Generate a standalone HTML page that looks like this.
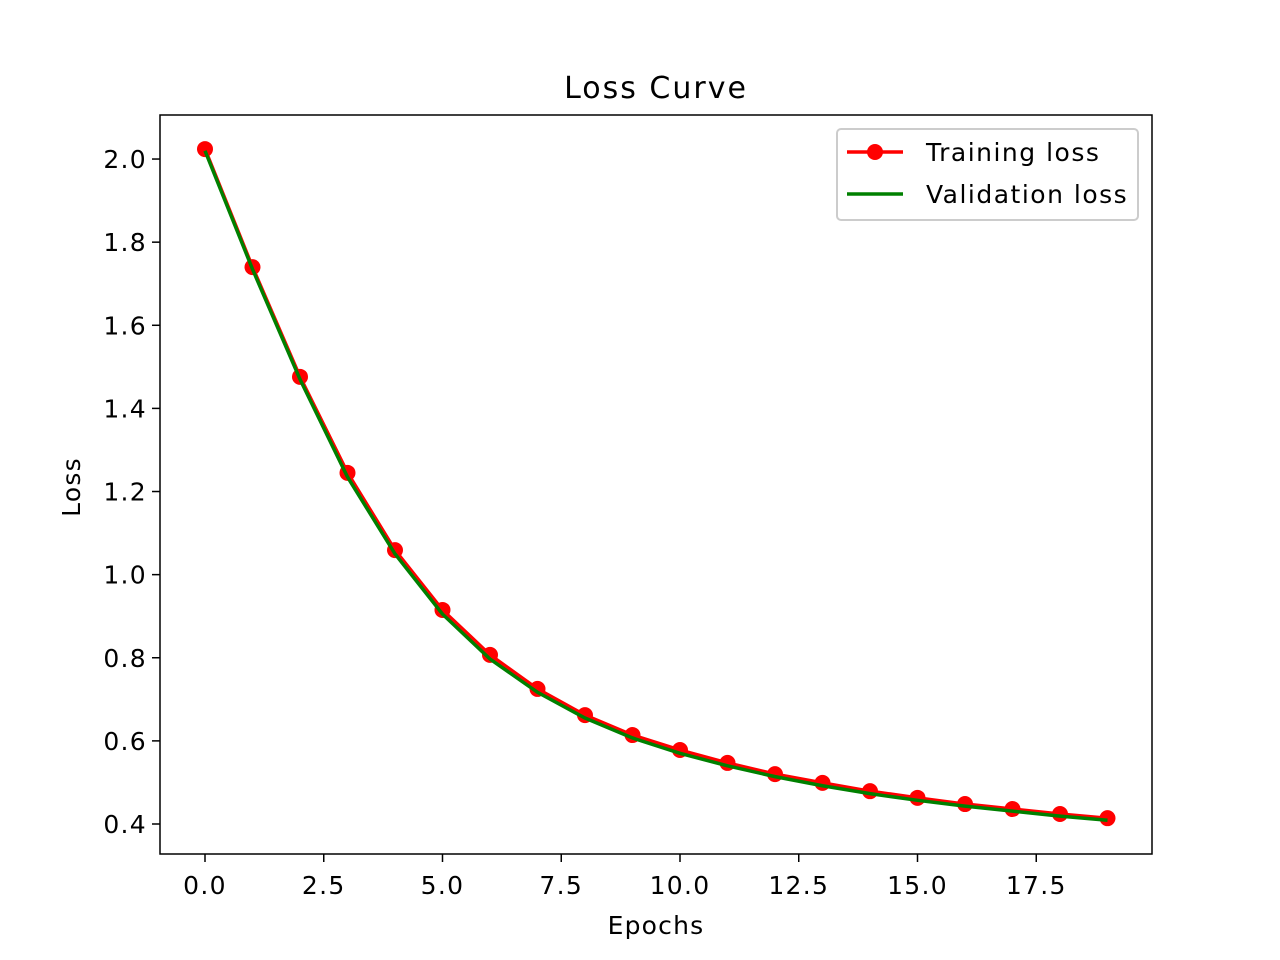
<!DOCTYPE html>
<html><head><meta charset="utf-8"><style>
body{margin:0;background:#fff;}
svg{display:block;font-family:"DejaVu Sans","Liberation Sans",sans-serif;}
</style></head><body>
<svg id="chart" width="1280" height="960" viewBox="0 0 1280 960">
<rect width="1280" height="960" fill="#fff"/>
<g id="plot"></g>
<text x="656" y="98" font-size="30" letter-spacing="2" text-anchor="middle">Loss Curve</text>
<text x="656" y="934" font-size="25" letter-spacing="1.2" text-anchor="middle">Epochs</text>
<text transform="translate(80,487) rotate(-90)" font-size="25" letter-spacing="1.2" text-anchor="middle">Loss</text>
</svg>
<script>
const epochs=[0,1,2,3,4,5,6,7,8,9,10,11,12,13,14,15,16,17,18,19];
const trainLoss=[2.024,1.740,1.476,1.245,1.059,0.915,0.807,0.725,0.662,0.614,0.578,0.547,0.520,0.499,0.479,0.463,0.448,0.436,0.424,0.414];
const valLoss=[2.020,1.735,1.470,1.235,1.050,0.905,0.797,0.717,0.655,0.607,0.570,0.540,0.514,0.492,0.473,0.457,0.443,0.431,0.419,0.409];
const xTicks=[0,2.5,5,7.5,10,12.5,15,17.5];
const yTicks=[0.4,0.6,0.8,1.0,1.2,1.4,1.6,1.8,2.0];
const NS="http://www.w3.org/2000/svg";
const L=160,R=1152,T=115,B=854;
function xs(v){return 205+v*47.5;}
function ys(v){return 824-(v-0.4)*415.6;}
const g=document.getElementById('plot');
function mk(tag,attrs,parent){const e=document.createElementNS(NS,tag);for(const k in attrs)e.setAttribute(k,attrs[k]);(parent||g).appendChild(e);return e;}
xTicks.forEach(t=>{
  const l=mk('line',{x1:xs(t),x2:xs(t),y1:B,y2:B+8,stroke:'#000','stroke-width':1.5});
  
  
  const tx=mk('text',{x:xs(t),y:B+40,'font-size':25,'letter-spacing':1.3,'text-anchor':'middle'});
  tx.textContent=t.toFixed(1);
  
  
});
yTicks.forEach(t=>{
  const l=mk('line',{x1:L-8,x2:L,y1:ys(t),y2:ys(t),stroke:'#000','stroke-width':1.5});
  
  
  const tx=mk('text',{x:L-13,y:ys(t)+9,'font-size':25,'letter-spacing':1.3,'text-anchor':'end'});
  tx.textContent=t.toFixed(1);
  
  
});
const tp=mk('polyline',{points:epochs.map((e,i)=>xs(e)+','+ys(trainLoss[i])).join(' '),fill:'none',stroke:'#ff0000','stroke-width':3.5});


epochs.forEach((e,i)=>{
  const c=mk('circle',{cx:xs(e),cy:ys(trainLoss[i]),r:8,fill:'#ff0000'});
  
  
});
const vp=mk('polyline',{points:epochs.map((e,i)=>xs(e)+','+ys(valLoss[i])).join(' '),fill:'none',stroke:'#008000','stroke-width':3.5});


const fr=mk('rect',{x:L,y:T,width:R-L,height:B-T,fill:'none',stroke:'#000','stroke-width':1.5});


const lg=mk('g',{});


mk('rect',{x:837,y:129,width:301,height:91,rx:4,fill:'#fff','fill-opacity':0.8,stroke:'#ccc','stroke-width':2},lg);
mk('line',{x1:847,x2:903,y1:152,y2:152,stroke:'#ff0000','stroke-width':3.5},lg);
mk('circle',{cx:875,cy:152,r:8,fill:'#ff0000'},lg);
const t1=mk('text',{x:926,y:161,'font-size':25,'letter-spacing':1.5},lg);t1.textContent='Training loss';


mk('line',{x1:847,x2:903,y1:194,y2:194,stroke:'#008000','stroke-width':3.5},lg);
const t2=mk('text',{x:926,y:203,'font-size':25,'letter-spacing':1.5},lg);t2.textContent='Validation loss';


</script>
</body></html>
